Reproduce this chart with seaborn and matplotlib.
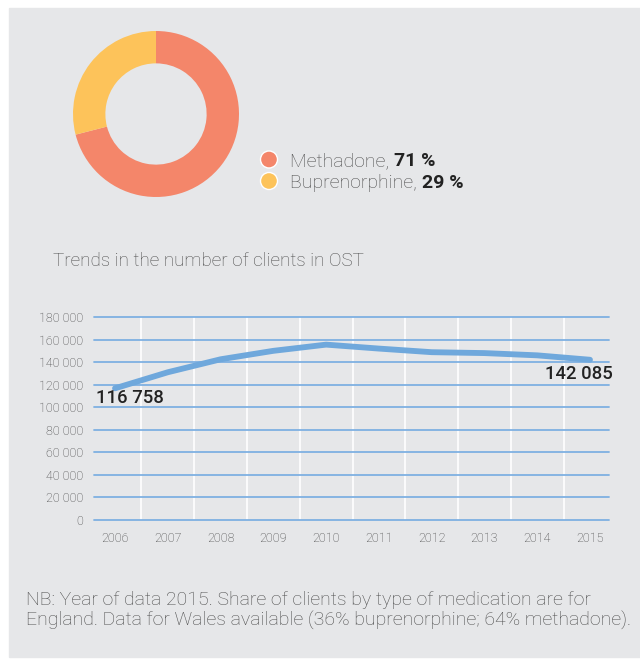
import matplotlib
matplotlib.use("Agg")
import matplotlib.pyplot as plt
from matplotlib.patches import Rectangle, Ellipse
import seaborn as sns
import pandas as pd

# data
med_labels = ["Methadone", "Buprenorphine"]
med_shares = [71, 29]
med_colors = ["#F4866A", "#FDC35A"]

years = [2006, 2007, 2008, 2009, 2010, 2011, 2012, 2013, 2014, 2015]
clients = [116758, 131000, 142500, 150000, 155500, 152000, 148800, 148000, 146000, 142085]
y_ticks = list(range(0, 180001, 20000))

title = "Trends in the number of clients in OST"
note_lines = ["NB: Year of data 2015. Share of clients by type of medication are for",
              "England. Data for Wales available (36% buprenorphine; 64% methadone)."]

sns.set_style("white")
plt.rcParams["font.family"] = ["Roboto", "DejaVu Sans"]

W, H = 640, 661
def fx(px):
    return px / W
def fy(py):
    return 1 - py / H

BG = "#E6E7E9"
TXT = "#4d4d4d"
LIGHT = ["Roboto", "DejaVu Sans"]

fig = plt.figure(figsize=(6.4, 6.61), dpi=100)
fig.patch.set_facecolor("white")
fig.patches.append(Rectangle((fx(9), fy(657)), fx(640) - fx(9), fy(8) - fy(657),
                             transform=fig.transFigure, color=BG, zorder=-10))

## donut
ax_d = fig.add_axes([fx(73), fy(197), 166 / W, 166 / H])
ax_d.pie(med_shares, colors=med_colors, startangle=90, counterclock=False,
         wedgeprops=dict(width=0.39, edgecolor="none"))
ax_d.set_xlim(-1, 1)
ax_d.set_ylim(-1, 1)
ax_d.set_aspect("auto")
ax_d.axis("off")

# legend with mixed weights
for i, (lab, val, col) in enumerate(zip(med_labels, med_shares, med_colors)):
    yb = 166 + i * 21.5
    fig.add_artist(Ellipse((fx(269), fy(yb - 6.5)), 17 / W, 17 / H, transform=fig.transFigure,
                           facecolor=col, edgecolor="white", lw=1))
    t = fig.text(fx(290), fy(yb), f"{lab}, ", fontsize=14, color=TXT,
                 family=LIGHT, weight="light", va="baseline")
    ax_d.annotate(f"{val} %", xy=(1, 0), xycoords=t, fontsize=14, color="#222222",
                  family=LIGHT, weight="bold", va="bottom", ha="left",
                  annotation_clip=False)

fig.text(fx(53), fy(261), title, fontsize=13.6, color=TXT, family=LIGHT,
         weight="light", va="center")

## line chart
df = pd.DataFrame({"year": years, "clients": clients})
ax = fig.add_axes([fx(94), fy(520), 515 / W, 203 / H])
ax.set_facecolor("none")
sns.lineplot(data=df, x="year", y="clients", ax=ax, color="#6FA8DC", linewidth=4.2,
             solid_capstyle="round", solid_joinstyle="round", clip_on=False, zorder=5)
ax.set_xlim(2006 - 0.398, 2015 + 0.36)
ax.set_ylim(0, 180000)
ax.set_yticks(y_ticks)
ax.set_yticklabels([f"{v:,}".replace(",", " ") for v in y_ticks])
ax.set_xticks(years)
ax.set_xticklabels([str(y) for y in years])
for y in y_ticks:
    ax.axhline(y, color="#7EB0E2", lw=1.3, zorder=2, clip_on=False)
for y in years[:-1]:
    ax.axvline(y + 0.5, color="white", lw=1.2, zorder=1)
for s in ax.spines.values():
    s.set_visible(False)
ax.tick_params(axis="y", length=0, pad=8, labelsize=9, labelcolor="#3f3f3f")
ax.tick_params(axis="x", length=0, pad=9, labelsize=9, labelcolor="#3f3f3f")
for lbl in ax.get_xticklabels() + ax.get_yticklabels():
    lbl.set_family(LIGHT)
    lbl.set_weight("light")
ax.set_xlabel("")
ax.set_ylabel("")

ax.annotate(f"{clients[0]:,}".replace(",", " "), xy=(years[0], clients[0]),
            xytext=(-13.7, -7.2), textcoords="offset points", ha="left", va="center",
            fontsize=13.3, color="#222222", family=LIGHT, weight="medium", zorder=6)
ax.annotate(f"{clients[-1]:,}".replace(",", " "), xy=(years[-1], clients[-1]),
            xytext=(16.6, -10.1), textcoords="offset points", ha="right", va="center",
            fontsize=13.3, color="#222222", family=LIGHT, weight="medium", zorder=6)

## footnote
for i, line in enumerate(note_lines):
    fig.text(fx(26), fy(605 + i * 21), line, fontsize=14, color=TXT, family=LIGHT,
             weight="light", va="baseline")

fig.savefig("out.png", dpi=100)
